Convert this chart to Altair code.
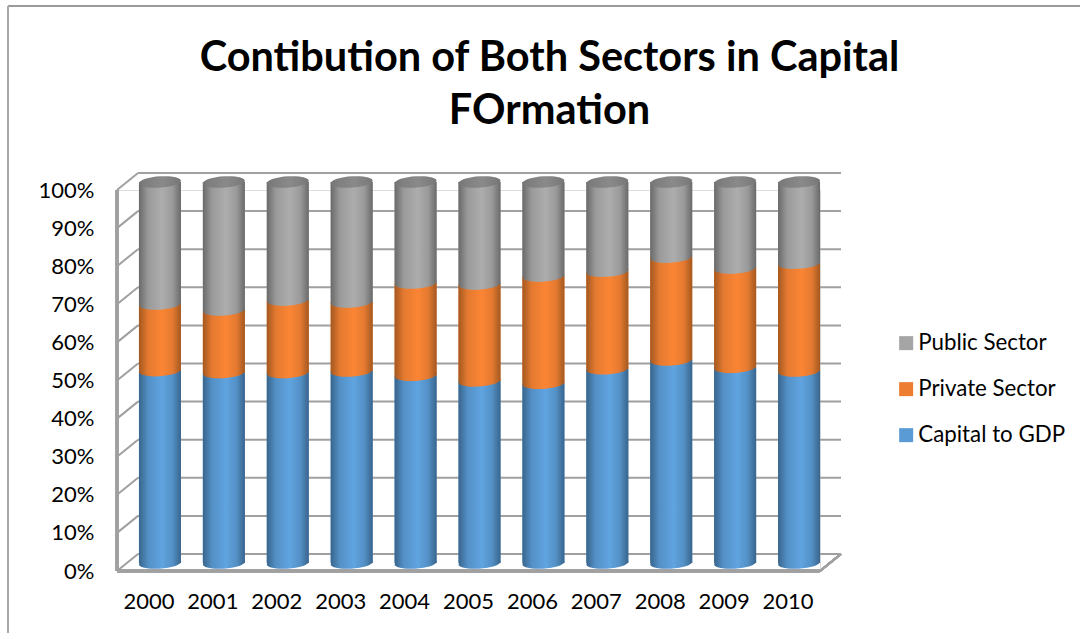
import altair as alt
import pandas as pd

years = ["2000", "2001", "2002", "2003", "2004", "2005", "2006", "2007", "2008", "2009", "2010"]
capital = [50.5, 50.0, 50.0, 50.4, 49.3, 47.8, 47.2, 51.0, 53.3, 51.4, 50.4]
private = [17.5, 16.4, 19.0, 18.1, 24.2, 25.4, 28.1, 25.6, 27.0, 26.0, 28.3]
public = [32.0, 33.6, 31.0, 31.5, 26.5, 26.8, 24.7, 23.4, 19.7, 22.6, 21.3]
ticks = list(range(0, 101, 10))

series_names = ["Public Sector", "Private Sector", "Capital to GDP"]
series_colors = ["#a5a5a5", "#ed7d31", "#5b9bd5"]

rows = []
for year, cap, pri, pub in zip(years, capital, private, public):
    rows.append({"year": year, "series": "Capital to GDP", "start": 0, "end": cap})
    rows.append({"year": year, "series": "Private Sector", "start": cap, "end": cap + pri})
    rows.append({"year": year, "series": "Public Sector", "start": cap + pri, "end": cap + pri + pub})
table = pd.DataFrame(rows)
tick_table = pd.DataFrame({"pct": ticks})

GRID = "#a0a0a0"
FONT = "Lato"
# depth of the 3D box, in pixels
DEPTH_X = 21
DEPTH_Y = -17
BAR_DX = 11
BAR_DY = -8
WIDTH = 703
HEIGHT = 381

x_enc = alt.X(
    "year:N",
    sort=years,
    title=None,
    scale=alt.Scale(paddingInner=0, paddingOuter=0, align=0.5),
    axis=alt.Axis(labelAngle=0, domain=False, ticks=False, grid=False, labelPadding=20,
                  labelFontSize=22, labelFont=FONT, labelColor="#000000"),
)
y_scale = alt.Scale(domain=[0, 100], nice=False)
y_axis = alt.Axis(values=ticks, labelExpr="datum.value + '%'", domain=False, ticks=False,
                  grid=False, labelPadding=23, labelFontSize=22, labelFont=FONT,
                  labelColor="#000000", labelOverlap=False)


def y_field(field):
    # every layer shares one y axis definition
    return alt.Y(field, scale=y_scale, axis=y_axis, title=None)


def shade(edge, near, mid):
    return alt.Gradient(
        gradient="linear", x1=0, x2=1, y1=0, y2=0,
        stops=[
            alt.GradientStop(offset=0, color=edge),
            alt.GradientStop(offset=0.22, color=near),
            alt.GradientStop(offset=0.55, color=mid),
            alt.GradientStop(offset=0.8, color=near),
            alt.GradientStop(offset=1, color=edge),
        ],
    )


ELLIPSE = "M-1,0.06 A1,0.27 -4 1,0 1,-0.06 A1,0.27 -4 1,0 -1,0.06 Z"
ELLIPSE_SIZE = 1764
BAR_BAND = 0.657

shades = {
    "Capital to GDP": shade("#39658c", "#5390c6", "#60a4e0"),
    "Private Sector": shade("#a45820", "#e47a30", "#fb8534"),
    "Public Sector": shade("#6a6a6a", "#9a9a9a", "#adadad"),
}

# Wall gridlines and their slanted side edges
wall = alt.Chart(tick_table).mark_rule(color=GRID, strokeWidth=2, yOffset=DEPTH_Y).encode(
    y=y_field("pct:Q"),
    x=alt.value(DEPTH_X),
    x2=alt.value(WIDTH + DEPTH_X),
)
side = alt.Chart(tick_table).mark_rule(color=GRID, strokeWidth=2, y2Offset=DEPTH_Y).encode(
    y=y_field("pct:Q"),
    y2="pct:Q",
    x=alt.value(0),
    x2=alt.value(DEPTH_X),
)
front_left = alt.Chart(tick_table).mark_rule(color=GRID, strokeWidth=2.5).encode(
    x=alt.value(0), y=alt.value(0), y2=alt.value(HEIGHT)
)
front_floor = alt.Chart(tick_table).mark_rule(color=GRID, strokeWidth=2.5).encode(
    x=alt.value(0), x2=alt.value(WIDTH), y=alt.value(HEIGHT)
)
floor_right = alt.Chart(tick_table).mark_rule(color=GRID, strokeWidth=2).encode(
    x=alt.value(WIDTH), x2=alt.value(WIDTH + DEPTH_X),
    y=alt.value(HEIGHT), y2=alt.value(HEIGHT + DEPTH_Y),
)

# Outer frame of the chart
frame_top = alt.Chart(tick_table).mark_rule(color="#9a9a9a", strokeWidth=1.5).encode(
    x=alt.value(8 - 117), x2=alt.value(1080 - 117), y=alt.value(6 - 190)
)
frame_left = alt.Chart(tick_table).mark_rule(color="#a8a8a8", strokeWidth=2).encode(
    x=alt.value(8 - 117), y=alt.value(6 - 190), y2=alt.value(633 - 190)
)

# Flat bars carry the legend; the shaded cylinders are painted over them
legend_bars = alt.Chart(table).mark_bar(
    width=alt.RelativeBandSize(band=BAR_BAND), xOffset=BAR_DX, yOffset=BAR_DY, y2Offset=BAR_DY
).encode(
    x=x_enc,
    y=y_field("start:Q"),
    y2="end:Q",
    color=alt.Color(
        "series:N",
        scale=alt.Scale(domain=series_names, range=series_colors),
        legend=alt.Legend(
            title=None, orient="none", legendX=899 - 117 - 4, legendY=331 - 190 + 1,
            symbolType="square", symbolSize=196, symbolStrokeWidth=0, rowPadding=23,
            labelFontSize=22.3, labelFont=FONT, labelColor="#000000", labelOffset=1,
            symbolOpacity=1,
        ),
    ),
)

layers = [frame_top, frame_left, wall, side, front_left, front_floor, floor_right, legend_bars]

for name in ["Capital to GDP", "Private Sector", "Public Sector"]:
    part = table[table["series"] == name]
    body = alt.Chart(part).mark_bar(
        width=alt.RelativeBandSize(band=BAR_BAND), xOffset=BAR_DX, yOffset=BAR_DY,
        y2Offset=BAR_DY, fill=shades[name],
    ).encode(x=x_enc, y=y_field("start:Q"), y2="end:Q")
    lower_end = alt.Chart(part).mark_point(
        shape=ELLIPSE, size=ELLIPSE_SIZE, filled=True, fill=shades[name], opacity=1,
        strokeWidth=0, xOffset=BAR_DX, yOffset=BAR_DY,
    ).encode(x=x_enc, y=y_field("start:Q"))
    layers += [body, lower_end]

top_part = table[table["series"] == "Public Sector"]
cap_end = alt.Chart(top_part).mark_point(
    shape=ELLIPSE, size=ELLIPSE_SIZE, filled=True,
    fill=shade("#767676", "#808080", "#8a8a8a"), opacity=1,
    strokeWidth=0, xOffset=BAR_DX, yOffset=BAR_DY,
).encode(x=x_enc, y=y_field("end:Q"))
layers.append(cap_end)

chart = alt.layer(*layers).resolve_scale(color="independent").properties(
    width=WIDTH,
    height=HEIGHT,
    padding={"left": 117, "top": 190, "right": 260, "bottom": 62},
    autosize=alt.AutoSizeParams(type="none"),
    title=alt.TitleParams(
        text=["Contibution of Both Sectors in Capital", "FOrmation"],
        font=FONT, fontSize=41.5, fontWeight="bold", color="#000000",
        anchor="middle", dx=81, offset=0, dy=127, lineHeight=53,
    ),
).configure_view(stroke="transparent").configure_axis(grid=False).configure(background="#ffffff")

chart.save("out.html", embed_options={"renderer": "svg", "actions": False})
